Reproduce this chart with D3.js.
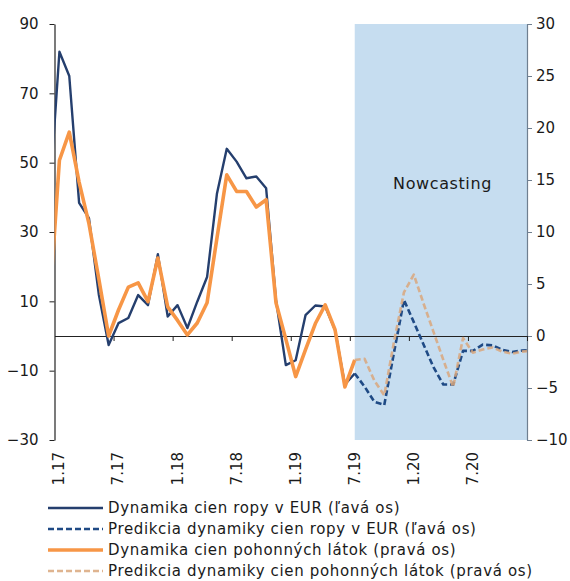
<!DOCTYPE html>
<html>
<head>
<meta charset="utf-8">
<script src="https://cdn.jsdelivr.net/npm/d3@7"></script>
<style>
  html, body { margin: 0; padding: 0; background: #fff; }
  svg { display: block; font-family: "DejaVu Sans", Verdana, sans-serif; }
</style>
</head>
<body>
<svg id="chart" width="570" height="581"></svg>
<script>
// ---- Data (monthly, index 0 = Jan 2017; index -1 = Dec 2016, index 48 = Jan 2021, clipped) ----
const tickLabels = ["1.17", "7.17", "1.18", "7.18", "1.19", "7.19", "1.20", "7.20"];
const tickLabelIndex = [0, 6, 12, 18, 24, 30, 36, 42];
const leftTicks = [-30, -10, 10, 30, 50, 70, 90];
const rightTicks = [-10, -5, 0, 5, 10, 15, 20, 25, 30];

// Oil price dynamics in EUR (left axis), Dec 2016 .. Jul 2019
const oilStart = -1;
const oilActual = [40, 82, 75, 38.4, 34, 12, -2.6, 3.7, 5.2, 11.8, 8.9, 23.6, 5.6, 8.9, 2.3, 9.9,
  17, 41, 54, 50.3, 45.5, 46, 42.6, 10.4, -8.4, -7, 6, 8.8, 8.5, 1.7, -14, -10.8];
// Forecast of oil price dynamics (left axis), Jul 2019 .. Jan 2021
const oilForecastStart = 30;
const oilForecast = [-10.8, -14.6, -19, -19.9, -4.6, 10.4, 4, -2.5, -9, -14, -14, -4.3, -4.3,
  -2.5, -2.7, -4, -4.6, -4.2, -4];

// Fuel price dynamics (right axis), Dec 2016 .. Jul 2019
const fuelStart = -1;
const fuelActual = [3, 16.9, 19.6, 14.8, 10.8, 5.5, 0, 2.5, 4.7, 5.1, 3.3, 7.5, 2.8, 1.5, 0.1, 1.25,
  3.2, 9.4, 15.5, 13.9, 13.9, 12.4, 13.1, 3.2, -0.3, -3.9, -1.3, 1.2, 3.0, 0.6, -4.9, -2.3];
// Forecast of fuel price dynamics (right axis), Jul 2019 .. Jan 2021
const fuelForecastStart = 30;
const fuelForecast = [-2.3, -2.2, -4.3, -5.7, -0.5, 4.2, 5.9, 3.1, 0.4, -2.3, -4.9, -0.2, -1.6,
  -1.3, -1.1, -1.5, -1.7, -1.5, -1.4];

const nowcastFrom = 30; // Jul 2019
const nMonths = 48;

const legendItems = [
  { label: "Dynamika cien ropy v EUR (ľavá os)", key: "oilA" },
  { label: "Predikcia dynamiky cien ropy v EUR (ľavá os)", key: "oilF" },
  { label: "Dynamika cien pohonných látok (pravá os)", key: "fuelA" },
  { label: "Predikcia dynamiky cien pohonných látok (pravá os)", key: "fuelF" }
];

// ---- Styles ----
const styles = {
  oilA: { stroke: "#253f6e", width: 2.4, dash: null, opacity: 1 },
  oilF: { stroke: "#1f4a85", width: 2.6, dash: "6,3", opacity: 1 },
  fuelA: { stroke: "#f79646", width: 3.6, dash: null, opacity: 1 },
  fuelF: { stroke: "#d9a77c", width: 2.6, dash: "6,3", opacity: 0.85 }
};

// ---- Layout ----
const plot = { left: 54.5, right: 527, top: 24, bottom: 440 };
const svg = d3.select("#chart");

const x = d3.scaleLinear().domain([0, nMonths]).range([plot.left, plot.right]);
const xc = i => x(i + 0.5);
const yL = d3.scaleLinear().domain([-30, 90]).range([plot.bottom, plot.top]);
const yR = d3.scaleLinear().domain([-10, 30]).range([plot.bottom, plot.top]);

svg.append("defs").append("clipPath").attr("id", "plotclip")
  .append("rect")
  .attr("x", plot.left).attr("y", plot.top)
  .attr("width", plot.right - plot.left).attr("height", plot.bottom - plot.top);

// Nowcasting band
svg.append("rect")
  .attr("x", xc(nowcastFrom)).attr("y", plot.top)
  .attr("width", x(nMonths) - xc(nowcastFrom))
  .attr("height", plot.bottom - plot.top)
  .attr("fill", "#c6ddf0");

svg.append("text")
  .attr("x", 442.5)
  .attr("y", 189)
  .attr("text-anchor", "middle")
  .attr("font-size", 16)
  .attr("letter-spacing", 0.6)
  .attr("fill", "#1a1a1a")
  .text("Nowcasting");

// ---- Axes ----
const axL = svg.append("g").attr("transform", `translate(${plot.left},0)`)
  .call(d3.axisLeft(yL).tickValues(leftTicks).tickSize(5).tickSizeOuter(0).tickPadding(11));
const axR = svg.append("g").attr("transform", `translate(${plot.right},0)`)
  .call(d3.axisRight(yR).tickValues(rightTicks).tickSize(5).tickSizeOuter(0).tickPadding(4));
const axX = svg.append("g").attr("transform", `translate(0,${yL(0)})`)
  .call(d3.axisBottom(x).tickValues(d3.range(6, nMonths + 1, 6)).tickSize(5).tickSizeOuter(0).tickFormat(""));

[axL, axR, axX].forEach(g => {
  g.selectAll("text").attr("font-size", 15).attr("fill", "#1a1a1a")
    .attr("font-family", "'DejaVu Sans', Verdana, sans-serif");
  g.selectAll("line").attr("stroke", "#222");
  g.select(".domain").attr("stroke", "#222").attr("stroke-width", 1.2);
});
axR.select(".domain").attr("stroke", "#6f7f90");
axR.selectAll("line").attr("stroke", "#6f7f90");

// x labels (rotated)
svg.append("g").selectAll("text")
  .data(tickLabels)
  .join("text")
  .attr("transform", (d, k) => `translate(${xc(tickLabelIndex[k])},452) rotate(-90)`)
  .attr("text-anchor", "end")
  .attr("dominant-baseline", "central")
  .attr("font-size", 15)
  .attr("fill", "#1a1a1a")
  .text(d => d);

// ---- Lines ----
function series(values, start) {
  return values.map((v, k) => ({ i: start + k, v }));
}
const lineL = d3.line().x(d => xc(d.i)).y(d => yL(d.v));
const lineR = d3.line().x(d => xc(d.i)).y(d => yR(d.v));

const lines = svg.append("g").attr("clip-path", "url(#plotclip)");
function drawLine(data, gen, st) {
  lines.append("path")
    .datum(data)
    .attr("d", gen)
    .attr("fill", "none")
    .attr("stroke", st.stroke)
    .attr("stroke-width", st.width)
    .attr("stroke-dasharray", st.dash)
    .attr("stroke-opacity", st.opacity)
    .attr("stroke-linejoin", "round");
}
drawLine(series(oilActual, oilStart), lineL, styles.oilA);
drawLine(series(oilForecast, oilForecastStart), lineL, styles.oilF);
drawLine(series(fuelActual, fuelStart), lineR, styles.fuelA);
drawLine(series(fuelForecast, fuelForecastStart), lineR, styles.fuelF);

// ---- Legend ----
const legend = svg.append("g");
const rowY = [508, 529, 550, 571];
legendItems.forEach((item, k) => {
  const st = styles[item.key];
  legend.append("line")
    .attr("x1", 48).attr("x2", 103)
    .attr("y1", rowY[k]).attr("y2", rowY[k])
    .attr("stroke", st.stroke)
    .attr("stroke-width", st.width)
    .attr("stroke-dasharray", st.dash)
    .attr("stroke-opacity", st.opacity);
  legend.append("text")
    .attr("x", 108).attr("y", rowY[k])
    .attr("dominant-baseline", "central")
    .attr("font-size", 15)
    .attr("letter-spacing", 0.65)
    .attr("fill", "#1a1a1a")
    .text(item.label);
});
</script>
</body>
</html>
